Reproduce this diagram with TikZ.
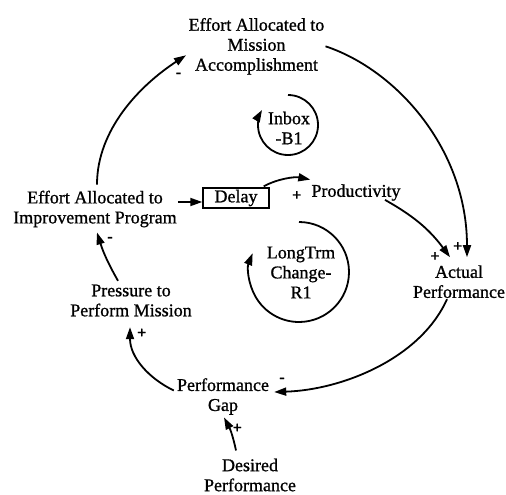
\documentclass[tikz,border=0pt]{standalone}
\usepackage{fontspec}
\setmainfont{Liberation Serif}[FakeBold=1]
\usetikzlibrary{arrows.meta,calc}
\begin{document}
\begin{tikzpicture}[x=1pt,y=1pt,
  var/.style={align=center,inner sep=1pt,font=\fontsize{18}{20}\selectfont},
  link/.style={line width=1.8pt,-{Triangle[length=12pt,width=8pt]}},
  sign/.style={inner sep=0pt,font=\fontsize{16}{16}\selectfont\bfseries},
  delaybox/.style={draw,line width=1.4pt,minimum width=66pt,minimum height=20pt,inner sep=0pt,font=\fontsize{18}{20}\selectfont}
]
\useasboundingbox (0,0) rectangle (506,-495);

% variables
\node[var] (mission)  at (256.5,-46.3) {Effort Allocated to\\Mission\\Accomplishment};
\node[var] (improve)  at (95,-209)     {Effort Allocated to\\Improvement Program};
\node[delaybox] (delay) at (236,-198)  {Delay};
\node[var] (prod)     at (356,-192.5)  {Productivity};
\node[var] (actual)   at (459,-281.7)  {Actual\\Performance};
\node[var] (gap)      at (223,-396.5)  {Performance\\Gap};
\node[var] (desired)  at (250,-475)    {Desired\\Performance};
\node[var] (pressure) at (131,-300.5)  {Pressure to\\Perform Mission};

% loop labels
\node[var] (inboxlbl) at (289,-128)   {Inbox\\-B1};
\node[var] (longlbl)  at (301,-272.5) {LongTrm\\Change-\\R1};

% causal links
\draw[link] (mission.east) .. controls +(72,-24) and +(0,107) .. ([shift={(8pt,7pt)}]actual.north);
\draw[link] ([shift={(29pt,2pt)}]prod.south) to[bend left=12] ([shift={(-9pt,7pt)}]actual.north);
\draw[link] ([xshift=-12pt]actual.south) .. controls +(-27,-60) and +(67,2) .. ([shift={(4pt,4.5pt)}]gap.east);
\draw[link] ([shift={(-14pt,7pt)}]desired.north) to[bend right=8] ([shift={(1pt,-1.5pt)}]gap.south);
\draw[link] ([shift={(-2pt,6pt)}]gap.west) .. controls +(-25,12) and +(0,-30) .. ([shift={(-1pt,-9.5pt)}]pressure.south);
\draw[link] ([shift={(-13pt,2.5pt)}]pressure.north) to[bend left=6] ([shift={(2pt,-4pt)}]improve.south);
\draw[link] ([shift={(2pt,5pt)}]improve.north) .. controls +(0,55) and +(-46,-30) .. ([shift={(-1.5pt,-9pt)}]mission.west);
\draw[link] ([yshift=7pt]improve.east) -- ([yshift=-4pt]delay.west);
\draw[link] ([shift={(-6pt,1pt)}]delay.north east) .. controls +(15,8) and +(-15,3) .. ([yshift=3.5pt]prod.north west);

% link polarities
\node[sign] (s1) at (296.7,-195.7) {+};
\node[sign] (s2) at (435,-256.7)   {+};
\node[sign] (s3) at (457.7,-246.7) {+};
\node[sign] (s4) at (282,-380)     {-};
\node[sign] (s5) at (237.3,-428.3) {+};
\node[sign] (s6) at (141.7,-333.3) {+};
\node[sign] (s7) at (110,-239.3)   {-};
\node[sign] (s8) at (178.5,-75)    {-};

% loop markers
\coordinate (inboxc) at (288,-125);
\coordinate (longc)  at (299,-272);
\draw[link] ($(inboxc)+(90:30)$) arc[start angle=90, end angle=-210, radius=30];
\draw[link] ($(longc)+(90:50)$) arc[start angle=90, end angle=-202, radius=50];
\end{tikzpicture}
\end{document}
